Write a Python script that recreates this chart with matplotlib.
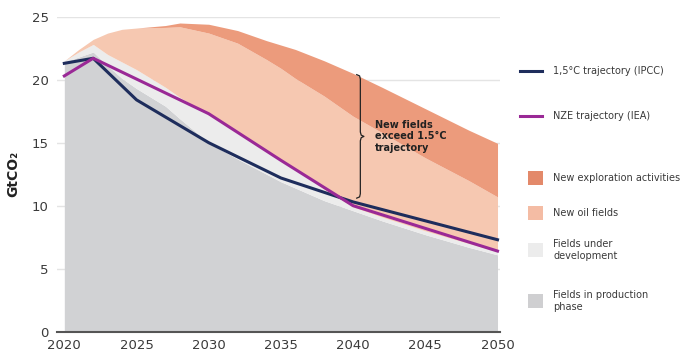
import matplotlib
matplotlib.use("Agg")
import matplotlib.pyplot as plt
from matplotlib.patches import Rectangle
from matplotlib.lines import Line2D

plt.rcParams['font.family'] = ['DejaVu Sans']

# ---- data (GtCO2) ----
years = [2020, 2021, 2022, 2023, 2024, 2025, 2027, 2028, 2030, 2032, 2034, 2035,
         2036, 2038, 2040, 2042, 2045, 2048, 2050]
production_top = [21.4, 21.8, 22.2, 21.1, 20.1, 19.3, 17.9, 16.9, 15.0, 13.7, 12.5, 11.9,
                  11.4, 10.4, 9.6, 8.8, 7.7, 6.7, 6.1]
development_top = [21.5, 22.2, 22.8, 22.0, 21.4, 20.8, 19.4, 18.6, 17.2, 15.8, 14.3, 13.6,
                   12.9, 11.3, 9.9, 9.1, 8.0, 7.0, 6.35]
new_fields_top = [21.5, 22.4, 23.2, 23.7, 24.0, 24.1, 24.15, 24.2, 23.7, 22.9, 21.6, 20.9,
                  20.1, 18.7, 17.1, 15.8, 13.8, 12.0, 10.7]
exploration_top = [21.5, 22.4, 23.2, 23.7, 24.0, 24.1, 24.3, 24.5, 24.4, 23.9, 23.1, 22.75,
                   22.4, 21.5, 20.5, 19.4, 17.7, 16.0, 14.95]

ipcc_years = [2020, 2022, 2025, 2030, 2035, 2040, 2045, 2050]
ipcc_values = [21.3, 21.7, 18.4, 15.0, 12.2, 10.3, 8.8, 7.3]
nze_years = [2020, 2022, 2030, 2035, 2040, 2050]
nze_values = [20.3, 21.7, 17.3, 13.6, 10.0, 6.4]

x_ticks = [2020, 2025, 2030, 2035, 2040, 2045, 2050]
y_ticks = [0, 5, 10, 15, 20, 25]

legend_labels = ["1,5°C trajectory (IPCC)", "NZE trajectory (IEA)",
                 "New exploration activities", "New oil fields",
                 "Fields under\ndevelopment", "Fields in production\nphase"]

# ---- colours ----
c_prod = "#d1d2d4"
c_dev = "#ececec"
c_new = "#f6c8b1"
c_expl = "#ec9b7c"
c_ipcc = "#1e2d5c"
c_nze = "#9a2996"
c_text = "#3a3a3a"

fig = plt.figure(figsize=(6.84, 3.6), dpi=100)
ax = fig.add_axes([57.1 / 684, 1 - 331.7 / 360, (500.4 - 57.1) / 684, (331.7 - 16.7) / 360])

ax.fill_between(years, 0, production_top, color=c_prod, lw=0, zorder=1)
ax.fill_between(years, production_top, development_top, color=c_dev, lw=0, zorder=1)
ax.fill_between(years, development_top, new_fields_top, color=c_new, lw=0, zorder=1)
ax.fill_between(years, new_fields_top, exploration_top, color=c_expl, lw=0, zorder=1)

ax.plot(ipcc_years, ipcc_values, color=c_ipcc, lw=2.2, zorder=3, solid_joinstyle='round')
ax.plot(nze_years, nze_values, color=c_nze, lw=2.2, zorder=3, solid_joinstyle='round')

ax.set_xlim(2019.5, 2050.2)
ax.set_ylim(0, 25)
ax.set_xticks(x_ticks)
ax.set_yticks(y_ticks)
ax.tick_params(length=0, labelsize=9.5, colors=c_text, pad=6)
ax.tick_params(axis='x', pad=5)
ax.grid(axis='y', color="#e4e4e4", lw=1, zorder=0)
ax.set_axisbelow(True)
for s in ['top', 'right', 'left']:
    ax.spines[s].set_visible(False)
ax.spines['bottom'].set_color("#555555")
ax.spines['bottom'].set_linewidth(1.5)
ax.spines['bottom'].set_zorder(5)

ax.set_ylabel("GtCO₂", fontsize=10, fontweight='bold', color="#222222", labelpad=8)

# ---- brace annotation ----
bx = 2040.5
top, bot, mid = 20.4, 10.6, 15.5
w = 0.25
brace_x = [bx - w, bx - 0.05, bx, bx, bx + 0.06, bx + w, bx + 0.06, bx, bx, bx - 0.05, bx - w]
brace_y = [top, top - 0.1, top - 0.35, mid + 0.35, mid + 0.1, mid, mid - 0.1, mid - 0.35,
           bot + 0.35, bot + 0.1, bot]
ax.plot(brace_x, brace_y, color="#222222", lw=0.9, zorder=4)
ax.text(2041.5, 15.5, "New fields\nexceed 1.5°C\ntrajectory", fontsize=7, fontweight='bold',
        color="#222222", va='center', ha='left', linespacing=1.15, zorder=4)

# ---- legend (pixel-space overlay) ----
lax = fig.add_axes([0, 0, 1, 1])
lax.set_xlim(0, 684)
lax.set_ylim(360, 0)
lax.axis('off')
lax.patch.set_alpha(0)

lx0, lx1, tx = 520, 542, 553
lax.add_line(Line2D([lx0, lx1], [71, 71], color=c_ipcc, lw=2.2))
lax.text(tx, 71, legend_labels[0], fontsize=7, color=c_text, va='center')
lax.add_line(Line2D([lx0, lx1], [116, 116], color=c_nze, lw=2.2))
lax.text(tx, 116, legend_labels[1], fontsize=7, color=c_text, va='center')

patch_cols = ["#e3896a", "#f4bca4", "#ececec", "#cfcfd1"]
patch_y = [178, 213, 250, 301]
for lab, col, yc in zip(legend_labels[2:], patch_cols, patch_y):
    lax.add_patch(Rectangle((528, yc - 7), 15, 14, facecolor=col, edgecolor='none'))
    lax.text(tx, yc, lab, fontsize=7, color=c_text, va='center', linespacing=1.35)

fig.savefig("out.png", dpi=100)
